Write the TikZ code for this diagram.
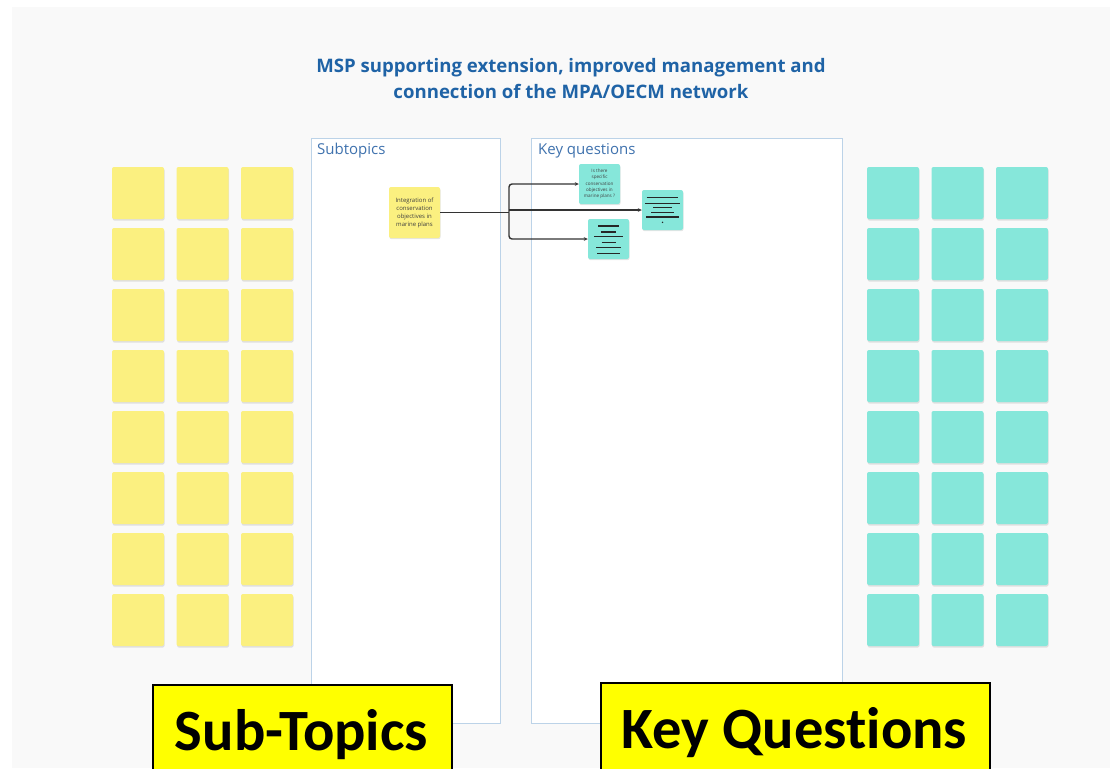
\documentclass[tikz,border=0pt]{standalone}
\usepackage{fontspec}
\setmainfont{Open Sans}
\newfontfamily\calfont{Carlito}[Ligatures=NoCommon]
\usetikzlibrary{arrows.meta,shadows}
\definecolor{bg}{HTML}{F9F9F9}
\definecolor{sticky}{HTML}{FBF080}
\definecolor{tealnote}{HTML}{86E7DA}
\definecolor{frameln}{HTML}{BCD3E8}
\definecolor{titleblue}{HTML}{1F63A6}
\definecolor{headblue}{HTML}{3F72AE}
\definecolor{labelyellow}{HTML}{FFFF00}
\definecolor{connc}{HTML}{333333}
\tikzset{
  notebase/.style={minimum size=52pt, inner sep=0pt, rounded corners=2pt,
    drop shadow={shadow xshift=0.6pt, shadow yshift=-1.6pt, opacity=0.10, fill=black}},
  ynote/.style={notebase, fill=sticky},
  tnote/.style={notebase, fill=tealnote},
  smallnote/.style={minimum width=41pt, minimum height=40pt, inner sep=1pt, rounded corners=2pt,
    align=center, text=black!75,
    drop shadow={shadow xshift=0.5pt, shadow yshift=-1.2pt, opacity=0.10, fill=black}},
  frame/.style={draw=frameln, line width=0.9pt, fill=white},
  framehead/.style={anchor=base west, text=headblue, font=\fontsize{15}{18}\selectfont, inner sep=0pt},
  conn/.style={draw=connc, line width=1.4pt, -{Stealth[length=4pt,width=3.6pt]}},
  bar/.style={draw=black!85, line width=1.2pt},
  biglabel/.style={fill=labelyellow, draw=black, line width=1.6pt},
  bigtext/.style={anchor=base, font=\calfont\bfseries\fontsize{58.5}{60}\selectfont, inner sep=0pt}
}
\begin{document}
\begin{tikzpicture}[x=1pt,y=-1pt]
\useasboundingbox (0,0) rectangle (1110,768);
\fill[white] (0,0) rectangle (1110,768);
\fill[bg] (12,7) rectangle (1110,768);

% title
\node[text=titleblue, font=\bfseries\fontsize{18.6}{26}\selectfont, align=center, inner sep=0pt]
  (title) at (571,79) {MSP supporting extension, improved management and\\connection of the MPA/OECM network};

% yellow grid
\foreach \c [count=\ci] in {112,176.5,241}
  \foreach \r in {0,...,7}
    \node[ynote] (yg-\ci-\r) at ({\c+26},{193+61*\r}) {};
% teal grid
\foreach \c [count=\ci] in {867,931.5,996}
  \foreach \r in {0,...,7}
    \node[tnote] (tg-\ci-\r) at ({\c+26},{193+61*\r}) {};

% frames
\draw[frame] (311,138) rectangle (500,723);
\draw[frame] (531,138) rectangle (842,723);
\node[framehead] (subhead) at (317,154) {Subtopics};
\node[framehead] (keyhead) at (538,154) {Key questions};

% notes
\node[smallnote, fill=sticky, minimum width=51pt, minimum height=51pt,
  font=\fontsize{6}{8}\selectfont] (integ) at (414.5,212.5)
  {Integration of\\conservation\\objectives in\\marine plans};
\node[smallnote, fill=tealnote, font=\fontsize{4.6}{6.2}\selectfont] (q1) at (599.5,184)
  {Is there\\specific\\conservation\\objectives in\\marine plans ?};
\node[smallnote, fill=tealnote] (q2) at (662.5,210) {};
\node[smallnote, fill=tealnote] (q3) at (608.5,239) {};

% placeholder bars in q2
\foreach \dy/\hw in {-12.3/15.8,-6.7/17.5,-2.3/9.5,2.3/11.5,7/16.5}
  \draw[bar] ([shift={(-\hw,\dy)}]q2.center) -- ([shift={(\hw,\dy)}]q2.center);
\fill[black!85] ([shift={(0,12.3)}]q2.center) circle (0.8pt);
% placeholder bars in q3
\foreach \dy/\hw in {-13/10.5,-7/7.7,-2.3/14.5,3.3/7,8.7/12.3,14.3/11.5}
  \draw[bar] ([shift={(-\hw,\dy)}]q3.center) -- ([shift={(\hw,\dy)}]q3.center);

% connectors
\coordinate (j) at (509,212.5);
\draw[draw=connc, line width=1.5pt] (integ.east) -- (j);
\draw[conn, rounded corners=3pt] (j) |- (q1.west);
\draw[conn] (j |- q2.west) -- (q2.west);
\draw[conn, rounded corners=3pt] (j) |- (q3.west);

% big labels
\draw[biglabel] (153,685) rectangle (452,790);
\node[bigtext] (lsub) at (301.5,750) {Sub-Topics};
\draw[biglabel] (601,683) rectangle (990,790);
\node[bigtext] (lkey) at (794.5,748) {Key Questions};
\end{tikzpicture}
\end{document}
